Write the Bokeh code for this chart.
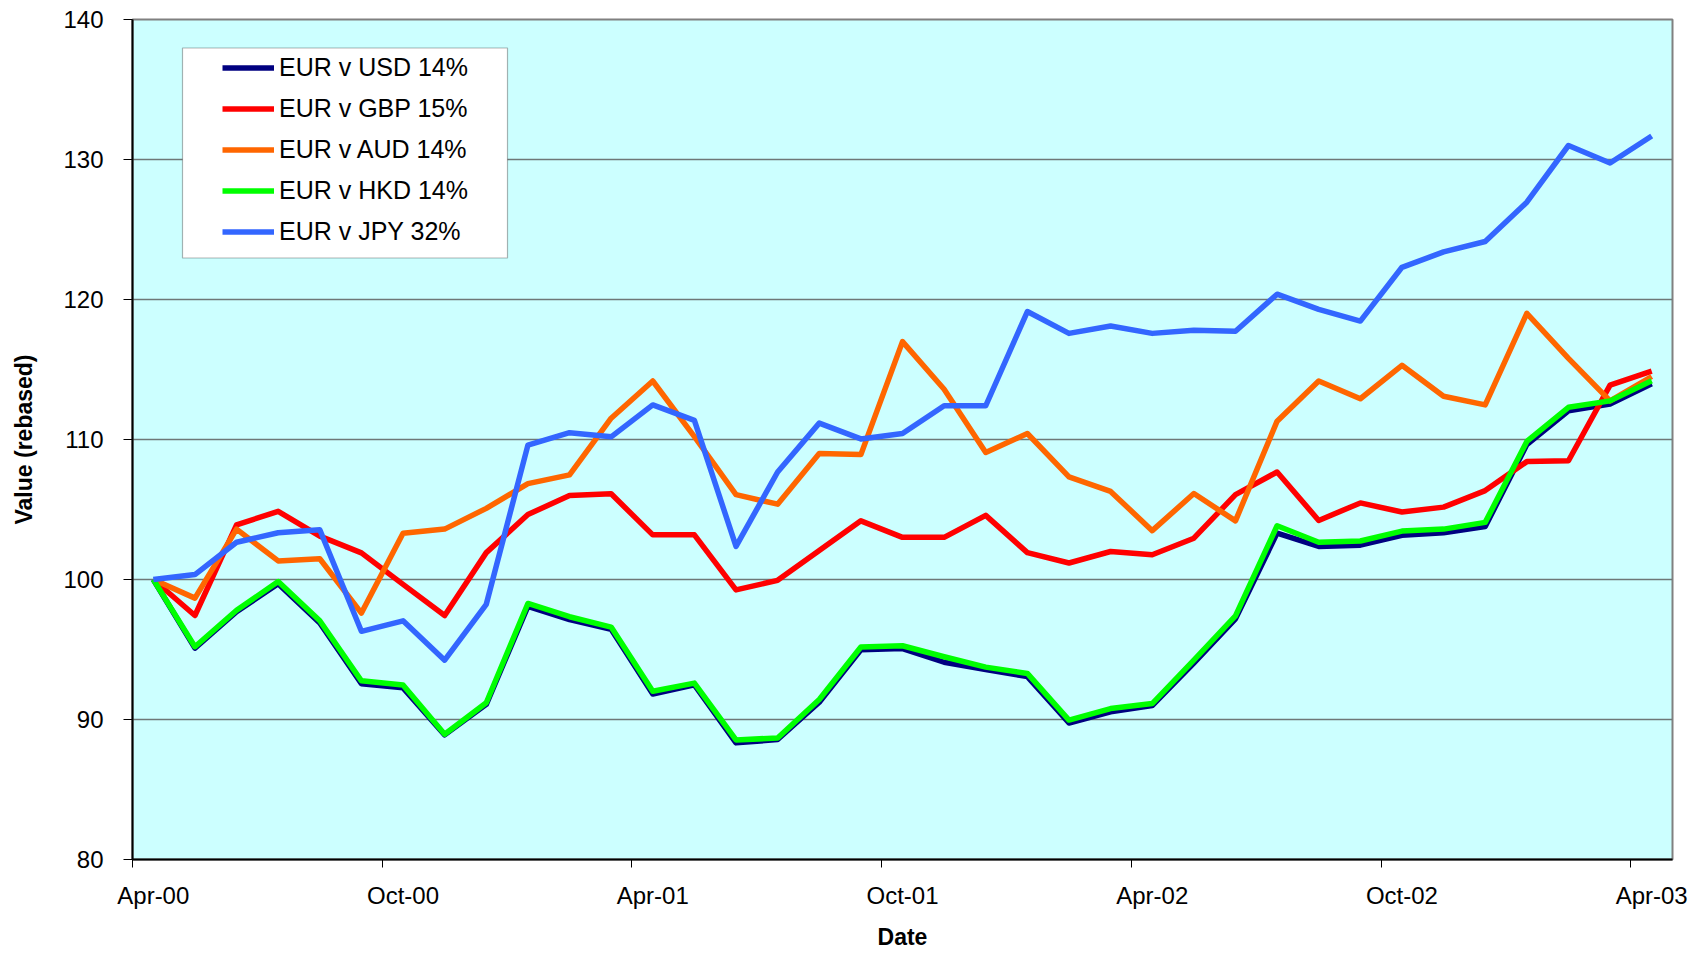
from bokeh.plotting import figure
from bokeh.models import Legend, LegendItem, FixedTicker, BoxAnnotation
from bokeh.embed import file_html
from bokeh.resources import INLINE

months = ["Apr-00", "May-00", "Jun-00", "Jul-00", "Aug-00", "Sep-00", "Oct-00", "Nov-00", "Dec-00",
          "Jan-01", "Feb-01", "Mar-01", "Apr-01", "May-01", "Jun-01", "Jul-01", "Aug-01", "Sep-01",
          "Oct-01", "Nov-01", "Dec-01", "Jan-02", "Feb-02", "Mar-02", "Apr-02", "May-02", "Jun-02",
          "Jul-02", "Aug-02", "Sep-02", "Oct-02", "Nov-02", "Dec-02", "Jan-03", "Feb-03", "Mar-03", "Apr-03"]

eur_usd = [100, 95.1, 97.7, 99.7, 96.9, 92.55, 92.26, 88.9, 91.08, 98.08, 97.13, 96.45, 91.82,
           92.47, 88.33, 88.57, 91.23, 94.98, 95.07, 94.09, 93.56, 93.06, 89.75, 90.55, 90.99,
           94.03, 97.19, 103.31, 102.36, 102.45, 103.16, 103.34, 103.78, 109.64, 112.05, 112.54, 113.98]
eur_gbp = [100, 97.43, 103.9, 104.87, 103.1, 101.9, 99.65, 97.43, 101.92, 104.64, 106.0, 106.12, 103.19,
           103.19, 99.26, 99.94, 102.07, 104.19, 103.01, 103.01, 104.58, 101.92, 101.18, 102.0, 101.77,
           102.95, 106.06, 107.68, 104.22, 105.47, 104.82, 105.17, 106.35, 108.42, 108.48, 113.88, 114.89]
eur_aud = [100, 98.67, 103.6, 101.33, 101.48, 97.6, 103.3, 103.6, 105.08, 106.85, 107.47, 111.52, 114.18,
           110.2, 106.06, 105.38, 109.0, 108.92, 116.99, 113.59, 109.07, 110.43, 107.33, 106.29, 103.49,
           106.14, 104.19, 111.31, 114.18, 112.91, 115.3, 113.09, 112.47, 119.01, 115.8, 112.76, 114.5]
eur_hkd = [100, 95.2, 97.8, 99.85, 97.05, 92.76, 92.47, 88.95, 91.2, 98.29, 97.34, 96.6, 92.02,
           92.6, 88.54, 88.68, 91.43, 95.18, 95.27, 94.48, 93.74, 93.29, 89.96, 90.78, 91.14,
           94.24, 97.4, 103.84, 102.66, 102.75, 103.46, 103.6, 104.08, 109.86, 112.3, 112.76, 114.19]
eur_jpy = [100, 100.35, 102.66, 103.34, 103.55, 96.3, 97.05, 94.24, 98.23, 109.6, 110.49, 110.19, 112.47,
           111.37, 102.36, 107.68, 111.17, 110.04, 110.43, 112.41, 112.41, 119.14, 117.58, 118.11, 117.58,
           117.81, 117.73, 120.38, 119.29, 118.46, 122.3, 123.4, 124.14, 126.95, 131.0, 129.75, 131.68]

series_names = ["EUR v USD 14%", "EUR v GBP 15%", "EUR v AUD 14%", "EUR v HKD 14%", "EUR v JPY 32%"]
series_values = [eur_usd, eur_gbp, eur_aud, eur_hkd, eur_jpy]
series_colors = ["#000080", "#FF0000", "#FF6600", "#00FF00", "#3366FF"]

y_ticks = [80, 90, 100, 110, 120, 130, 140]
label_every = 6

FONT = "Liberation Sans"
x = list(range(len(months)))

W, H = 1690, 952
B_LEFT, B_RIGHT, B_TOP, B_BOTTOM = 132, 18, 19, 93
FRAME_H = H - B_TOP - B_BOTTOM

p = figure(width=W, height=H, output_backend="svg", toolbar_location=None,
           x_range=(-0.5, len(months) - 0.5), y_range=(80, 140),
           min_border_left=B_LEFT, min_border_right=B_RIGHT,
           min_border_top=B_TOP, min_border_bottom=B_BOTTOM)

p.background_fill_color = "#CCFFFF"
p.border_fill_color = "white"
p.outline_line_color = "#808080"
p.outline_line_width = 2

# x axis
label_pos = x[::label_every]
p.xaxis.ticker = FixedTicker(ticks=label_pos, minor_ticks=[i - 0.5 for i in label_pos])
p.xaxis.major_label_overrides = {i: months[i] for i in label_pos}
p.xaxis.major_tick_line_color = None
p.xaxis.minor_tick_line_color = "black"
p.xaxis.minor_tick_out = 8
p.xaxis.minor_tick_in = 0
p.xaxis.minor_tick_line_width = 1
p.xaxis.major_label_standoff = 14
p.xaxis.major_label_text_font_size = "24px"
p.xaxis.axis_label = "Date"
p.xaxis.axis_label_standoff = 12

# y axis
p.yaxis.ticker = FixedTicker(ticks=y_ticks)
p.yaxis.minor_tick_line_color = None
p.yaxis.major_tick_out = 9
p.yaxis.major_tick_in = 0
p.yaxis.major_tick_line_color = "black"
p.yaxis.major_label_standoff = 20
p.yaxis.major_label_text_font_size = "24px"
p.yaxis.axis_label = "Value (rebased)"
p.yaxis.axis_label_standoff = 23

for ax in [p.xaxis, p.yaxis]:
    ax.axis_line_color = "black"
    ax.axis_line_width = 2
    ax.major_label_text_font = FONT
    ax.major_label_text_color = "black"
    ax.axis_label_text_font = FONT
    ax.axis_label_text_font_size = "23px"
    ax.axis_label_text_font_style = "bold"
    ax.axis_label_text_color = "black"

p.xgrid.grid_line_color = None
p.ygrid.grid_line_color = "#6e7777"
p.ygrid.grid_line_width = 1.5

items = []
for name, vals, col in zip(series_names, series_values, series_colors):
    r = p.line(x, vals, line_color=col, line_width=5.5, line_join="round")
    items.append(LegendItem(label=name, renderers=[r]))

# legend frame, in screen units measured from the frame's bottom-left
box_left, box_right, box_top, box_bottom = 50, 375, 47.5, 257.5   # px from frame left / page top
box = BoxAnnotation(left=box_left, right=box_right,
                    top=B_TOP + FRAME_H - box_top, bottom=B_TOP + FRAME_H - box_bottom,
                    left_units="screen", right_units="screen", top_units="screen", bottom_units="screen",
                    fill_color="white", fill_alpha=1.0, line_color="black", line_width=1.2)
p.add_layout(box)

legend_top = 46.5
legend = Legend(items=items, location=(90, B_TOP + FRAME_H - legend_top - 5 * 41),
                padding=0, spacing=0,
                glyph_width=52, glyph_height=41, label_height=41, label_standoff=5,
                label_text_font=FONT, label_text_font_size="25px", label_text_color="black",
                border_line_color=None, background_fill_alpha=0.0, margin=0)
p.add_layout(legend)

open("out.html", "w").write(file_html(p, INLINE))
